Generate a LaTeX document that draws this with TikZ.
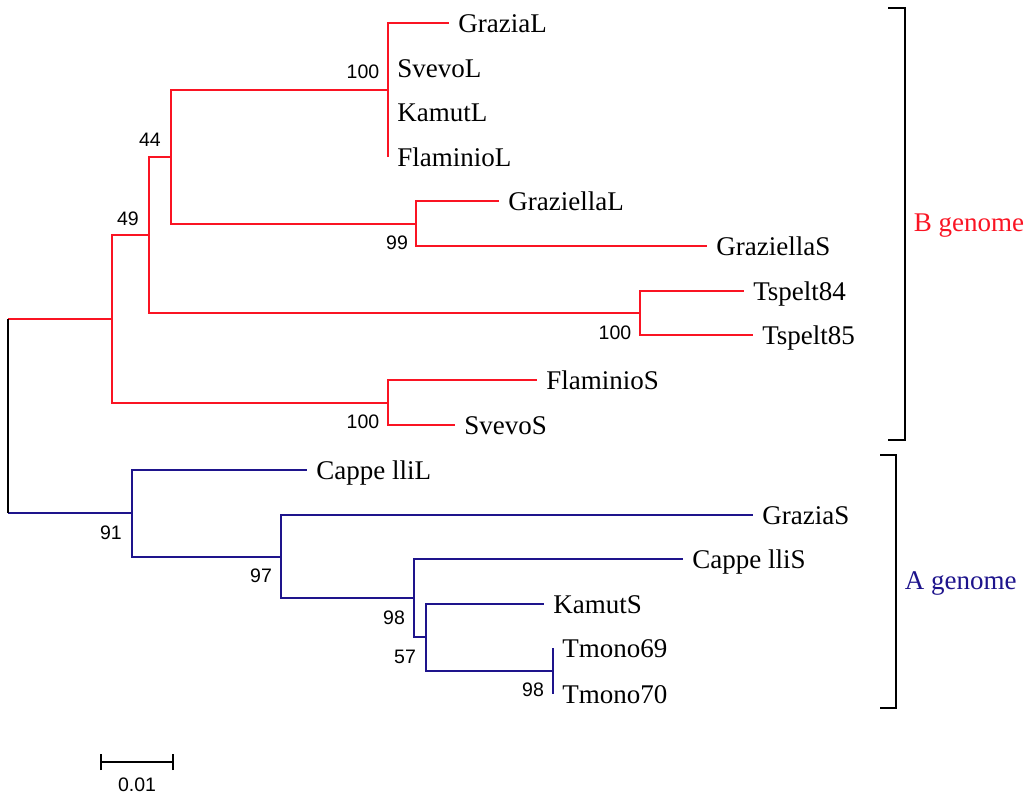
\documentclass[tikz,border=0pt]{standalone}
\usepackage{fontspec}
\setmainfont{Liberation Serif}
\newfontfamily\arialfont{Liberation Sans}
\definecolor{bred}{RGB}{250,20,35}
\definecolor{ablue}{RGB}{30,20,140}
\tikzset{
	leaf/.style={anchor=west, inner xsep=8.5pt, inner ysep=0pt, text height=18pt, text depth=0pt, font=\fontsize{27}{30}\selectfont},
	boot/.style={inner sep=0pt, font=\arialfont\fontsize{19.5}{22}\selectfont},
	genome/.style={anchor=west, inner sep=0pt, text height=18pt, text depth=0pt, font=\fontsize{27}{30}\selectfont}
}

\begin{document}
\begin{tikzpicture}[x=1pt,y=-1pt,line width=1.6pt]
\useasboundingbox (0,0) rectangle (1024,796);

% inner nodes
\coordinate (root) at (8,416);
\coordinate (nB1) at (388,90);
\coordinate (nB2) at (416,224);
\coordinate (nB3) at (171,157);
\coordinate (nB4) at (640,313);
\coordinate (nB5) at (149,235);
\coordinate (nB6) at (388,403);
\coordinate (nB7) at (112,319);
\coordinate (nA1) at (132,513);
\coordinate (nA2) at (281,557);
\coordinate (nA3) at (414,598);
\coordinate (nA4) at (426,637);
\coordinate (nA5) at (553,671);

% leaf tips
\coordinate (GraziaL) at (449,23);
\coordinate (SvevoL) at (388,68);
\coordinate (KamutL) at (388,112);
\coordinate (FlaminioL) at (388,157);
\coordinate (GraziellaL) at (499,201);
\coordinate (GraziellaS) at (707,246);
\coordinate (Tspelt84) at (744,291);
\coordinate (Tspelt85) at (753,335);
\coordinate (FlaminioS) at (537,380);
\coordinate (SvevoS) at (455,425);
\coordinate (CappelliL) at (307,470);
\coordinate (GraziaS) at (753,515);
\coordinate (CappelliS) at (683,559);
\coordinate (KamutS) at (544,604);
\coordinate (Tmono69) at (553,648);
\coordinate (Tmono70) at (553,694);

\begin{scope}[bred]
\draw (nB1) |- (GraziaL);
\draw (nB1) |- (SvevoL);
\draw (nB1) |- (KamutL);
\draw (nB1) |- (FlaminioL);
\draw (nB2) |- (GraziellaL);
\draw (nB2) |- (GraziellaS);
\draw (nB3) |- (nB1);
\draw (nB3) |- (nB2);
\draw (nB4) |- (Tspelt84);
\draw (nB4) |- (Tspelt85);
\draw (nB5) |- (nB3);
\draw (nB5) |- (nB4);
\draw (nB6) |- (FlaminioS);
\draw (nB6) |- (SvevoS);
\draw (nB7) |- (nB5);
\draw (nB7) |- (nB6);
\draw (root |- nB7) -- (nB7);
\end{scope}

\begin{scope}[ablue]
\draw (nA1) |- (CappelliL);
\draw (nA1) |- (nA2);
\draw (nA2) |- (GraziaS);
\draw (nA2) |- (nA3);
\draw (nA3) |- (CappelliS);
\draw (nA3) |- (nA4);
\draw (nA4) |- (KamutS);
\draw (nA4) |- (nA5);
\draw (nA5) |- (Tmono69);
\draw (nA5) |- (Tmono70);
\draw (root |- nA1) -- (nA1);
\end{scope}

% root
\draw (root |- nB7) -- (root |- nA1);

% taxa
\foreach \t/\s in {GraziaL/GraziaL, SvevoL/SvevoL, KamutL/KamutL, FlaminioL/FlaminioL,
	GraziellaL/GraziellaL, GraziellaS/GraziellaS, Tspelt84/Tspelt84, Tspelt85/Tspelt85,
	FlaminioS/FlaminioS, SvevoS/SvevoS, CappelliL/Cappe lliL, GraziaS/GraziaS,
	CappelliS/Cappe lliS, KamutS/KamutS, Tmono69/Tmono69, Tmono70/Tmono70}
	\node[leaf] (t-\t) at (\t) {\s};

% bootstrap values
\node[boot] (b1) at (363,72) {100};
\node[boot] (b2) at (397,243) {99};
\node[boot] (b3) at (150,140) {44};
\node[boot] (b4) at (615,333) {100};
\node[boot] (b5) at (128,219) {49};
\node[boot] (b6) at (363,422) {100};
\node[boot] (b7) at (111,533) {91};
\node[boot] (b8) at (261,576) {97};
\node[boot] (b9) at (394,618) {98};
\node[boot] (b10) at (405,657) {57};
\node[boot] (b11) at (533,690) {98};

% genome brackets
\draw (888,8) -- (905,8) -- (905,440) -- (888,440);
\draw (880,455) -- (896,455) -- (896,708) -- (880,708);
\node[genome,bred] (gB) at (913,222) {B genome};
\node[genome,ablue] (gA) at (904,580) {A genome};

% scale bar
\coordinate (s0) at (101,762);
\coordinate (s1) at (173,762);
\draw (s0) -- (s1);
\draw ([yshift=-8pt]s0) -- ([yshift=8pt]s0);
\draw ([yshift=-8pt]s1) -- ([yshift=8pt]s1);
\node[boot] (sc) at (137,785) {0.01};
\end{tikzpicture}
\end{document}
